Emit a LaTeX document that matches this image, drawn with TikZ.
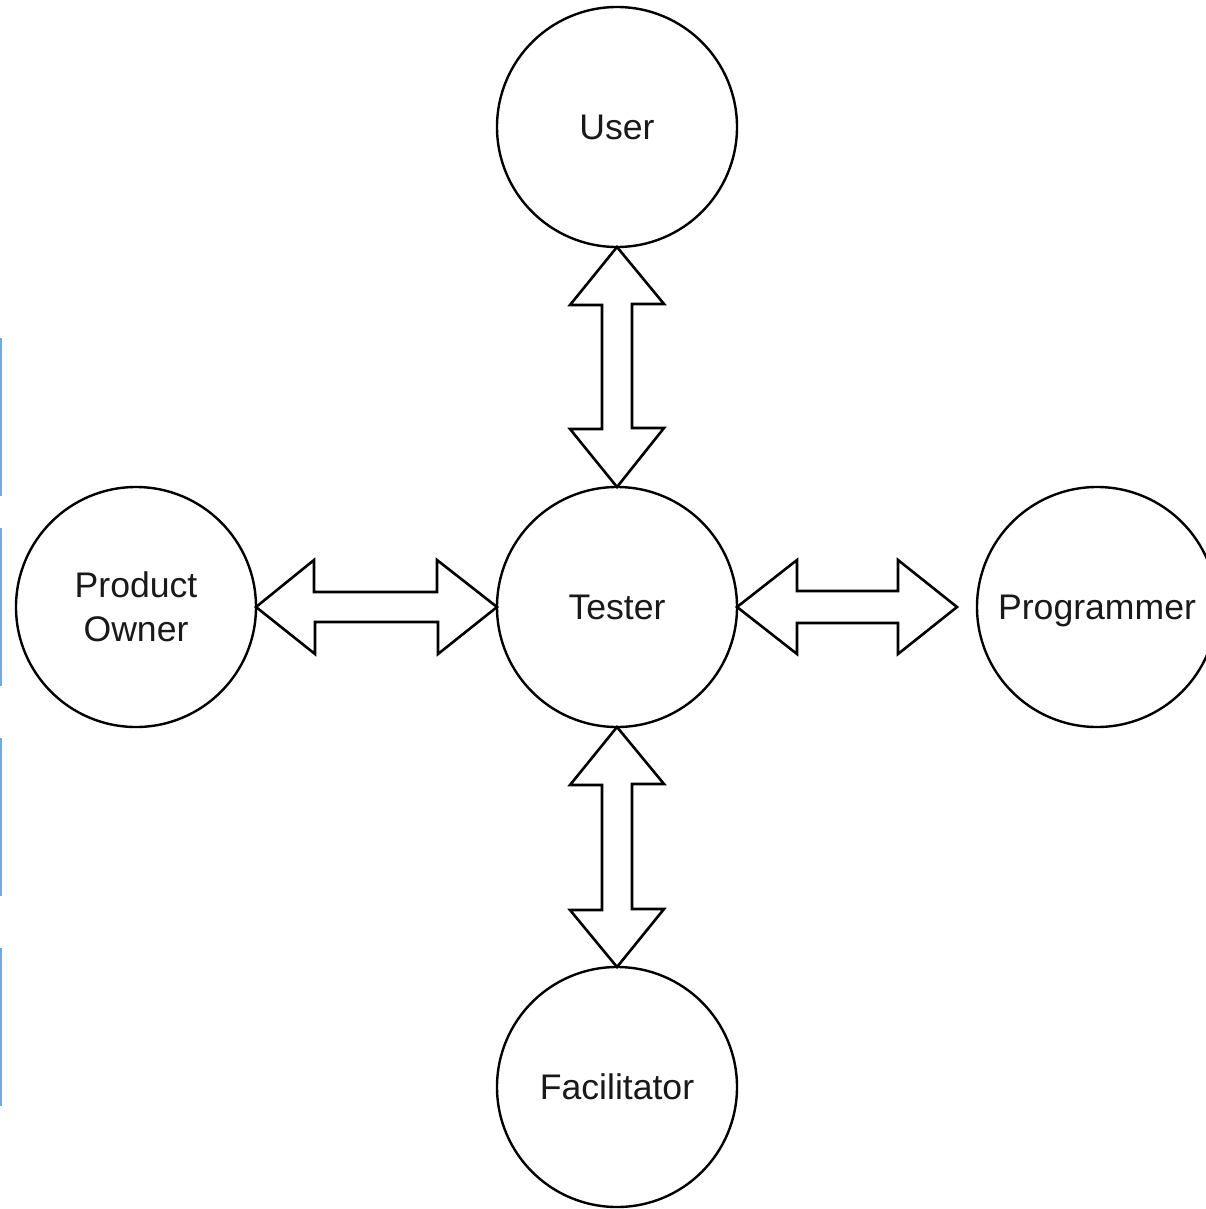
\documentclass[tikz,border=0pt]{standalone}
\usepackage{fontspec}
\setmainfont{Liberation Sans}
\definecolor{edgeblue}{RGB}{110,170,230}
\definecolor{txt}{RGB}{25,25,25}
\tikzset{
  role/.style={circle, draw=black, line width=2.4pt, minimum size=240pt, inner sep=0pt, outer sep=0pt,
    font=\fontsize{35.6pt}{44pt}\selectfont, text=txt, align=center},
  blockarrow/.style={draw=black, fill=white, line width=2.6pt, line join=miter},
  edgemark/.style={draw=edgeblue, line width=2pt}
}
\begin{document}
\begin{tikzpicture}[x=1pt,y=-1pt]
\useasboundingbox (0,0) rectangle (1205,1209);
\node[role] (user) at (617,127) {User};
\node[role] (tester) at (617,607) {Tester};
\node[role] (fac) at (617,1087) {Facilitator};
\node[role] (po) at (136,607) {Product\\Owner};
\node[role, text depth=0pt] (prog) at (1097,607) {Programmer};
% vertical top arrow: user.south -> tester.north
\draw[blockarrow] (user.south) -- ++(47,57) -- ++(-32,0) -- ++(0,124) -- ++(32,0)
  -- (tester.north) -- ++(-47,-58) -- ++(32,0) -- ++(0,-124) -- ++(-32,0) -- cycle;
% vertical bottom arrow: tester.south -> fac.north
\draw[blockarrow] (tester.south) -- ++(47,57) -- ++(-32,0) -- ++(0,125) -- ++(32,0)
  -- (fac.north) -- ++(-47,-57) -- ++(32,0) -- ++(0,-125) -- ++(-32,0) -- cycle;
% left arrow: po.east -> tester.west
\draw[blockarrow] (po.east) -- ++(58,-47) -- ++(0,32) -- ++(123,0) -- ++(0,-32)
  -- (tester.west) -- ++(-59,47) -- ++(0,-32) -- ++(-123,0) -- ++(0,32) -- cycle;
% right arrow: tester.east -> programmer
\coordinate (progtip) at (957,607);
\draw[blockarrow] (tester.east) -- ++(60,-47) -- ++(0,31) -- ++(101,0) -- ++(0,-31)
  -- (progtip) -- ++(-59,47) -- ++(0,-31) -- ++(-101,0) -- ++(0,31) -- cycle;
% blue marks at left edge
\draw[edgemark] (1,338) -- (1,496);
\draw[edgemark] (1,528) -- (1,686);
\draw[edgemark] (1,738) -- (1,896);
\draw[edgemark] (1,948) -- (1,1106);
\end{tikzpicture}
\end{document}
